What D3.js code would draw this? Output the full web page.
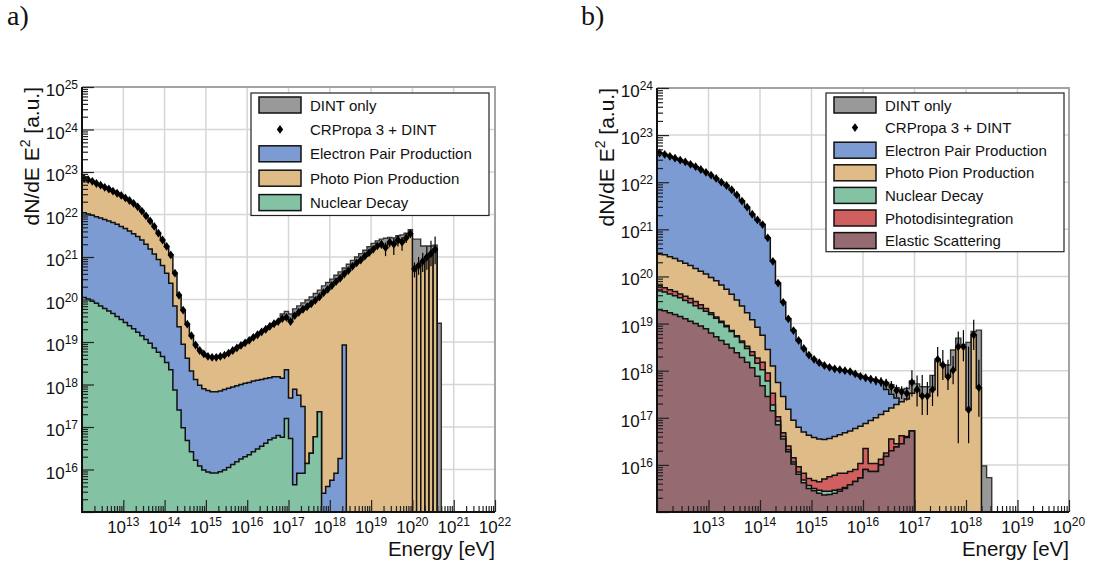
<!DOCTYPE html>
<html>
<head>
<meta charset="utf-8">
<script src="https://cdn.jsdelivr.net/npm/d3@7"></script>
<style>
  body { margin: 0; background: #fff; }
  svg text { font-family: "Liberation Sans", Arial, sans-serif; fill: #111; }
</style>
</head>
<body>
<svg id="chart" width="1095" height="570"></svg>
<script>
// spectra are binned in log10(E/eV) with 10 bins per decade starting at 1e12 eV,
// values are log10 of dN/dE E^2 (cumulative top of each stacked layer)
const BIN_START = 12, BIN_STEP = 0.1;

// colours of the contributions
const DINT = "#999999", PAIR = "#7b9bd2", PION = "#dfbb87",
      NUCLEAR = "#84c2a4", PHOTODIS = "#d05f5f", ELASTIC = "#956a70";

// ---------- panel a ----------
// total (top of the photo pion layer), also the CRPropa 3 + DINT points
const aTotal = [
  22.85, 22.82, 22.78, 22.73, 22.69, 22.64, 22.60, 22.55, 22.50, 22.45,
  22.39, 22.33, 22.26, 22.18, 22.08, 21.97, 21.85, 21.72, 21.56, 21.40,
  21.25, 21.05, 20.62, 20.10, 19.75, 19.42, 19.15, 18.93, 18.80, 18.72,
  18.66, 18.64, 18.64, 18.66, 18.69, 18.74, 18.80, 18.86, 18.92, 18.98,
  19.04, 19.11, 19.17, 19.24, 19.30, 19.37, 19.43, 19.48, 19.55, 19.58,
  19.48, 19.62, 19.70, 19.77, 19.83, 19.90, 19.98, 20.06, 20.16, 20.24,
  20.33, 20.42, 20.50, 20.60, 20.68, 20.78, 20.86, 20.93, 21.02, 21.10,
  21.18, 21.26, 21.30, 21.22, 21.35, 21.30, 21.40, 21.35, 21.45, 21.55,
  20.72, 20.80, 20.90, 21.00, 21.08, 21.18
];
// nuclear decay + electron pair production
const aPairTop = [
  22.04, 22.01, 21.98, 21.95, 21.92, 21.88, 21.85, 21.81, 21.77, 21.72,
  21.67, 21.61, 21.55, 21.48, 21.40, 21.30, 21.19, 21.07, 20.94, 20.80,
  20.62, 20.38, 19.85, 19.36, 18.95, 18.62, 18.32, 18.12, 17.98, 17.90,
  17.86, 17.83, 17.83, 17.85, 17.88, 17.91, 17.94, 17.97, 18.00, 18.03,
  18.05, 18.08, 18.10, 18.12, 18.14, 18.16, 18.18, 18.18, 18.15, 18.35,
  17.68, 17.89, 17.75, 17.48, 16.14, 16.38, 16.77, 17.36, 15.44, 15.60,
  15.75, 15.91, 16.26, 18.93
];
// nuclear decay
const aNuclearTop = [
  20.05, 20.01, 19.96, 19.91, 19.85, 19.79, 19.73, 19.67, 19.60, 19.53,
  19.46, 19.38, 19.31, 19.23, 19.15, 19.06, 18.97, 18.86, 18.76, 18.66,
  18.52, 18.35, 17.87, 17.40, 16.98, 16.68, 16.42, 16.22, 16.08, 15.99,
  15.94, 15.92, 15.92, 15.95, 15.99, 16.05, 16.12, 16.18, 16.25, 16.30,
  16.35, 16.42, 16.48, 16.55, 16.62, 16.70, 16.74, 16.80, 16.76, 17.20,
  16.73, 15.64, 15.91, 15.91, 16.14, 16.38, 16.77, 17.36
];
// DINT only, first bin where it is drawn
const aDintStart = 48;
const aDint = [
  19.66, 19.72, 19.66, 19.78, 19.85, 19.92, 19.99, 20.06, 20.14, 20.22,
  20.32, 20.40, 20.48, 20.57, 20.65, 20.74, 20.83, 20.92, 21.00, 21.08,
  21.16, 21.24, 21.32, 21.38, 21.42, 21.44, 21.46, 21.45, 21.50, 21.52,
  21.56, 21.64, 21.42, 21.42, 21.26, 21.26, 21.26, 21.28, 19.44
];
// [bin, up, down] error bars in decades
const aErrors = [
  [66, .03, .03], [67, .03, .03], [68, .04, .04], [69, .04, .05], [70, .05, .06],
  [71, .06, .06], [72, .08, .10], [73, .12, .20], [74, .08, .12], [75, .15, .25],
  [76, .10, .15], [77, .12, .20], [78, .10, .12], [79, .08, .10], [80, .15, .20],
  [81, .20, .22], [82, .20, .25], [83, .25, .30], [84, .30, .30], [85, .30, .35]
];
const aBarBins = [80, 85];
const aLegendNames = ["DINT only", "CRPropa 3 + DINT", "Electron Pair Production",
                      "Photo Pion Production", "Nuclear Decay"];
const aLegendColors = [DINT, null, PAIR, PION, NUCLEAR];

// ---------- panel b ----------
const bMarkers = [
  22.62, 22.59, 22.55, 22.51, 22.47, 22.43, 22.38, 22.33, 22.27, 22.21,
  22.15, 22.08, 22.00, 21.93, 21.84, 21.73, 21.60, 21.47, 21.32, 21.20,
  21.10, 20.82, 20.32, 19.86, 19.45, 19.10, 18.85, 18.64, 18.47, 18.33,
  18.24, 18.17, 18.11, 18.07, 18.04, 18.02, 18.00, 17.98, 17.93, 17.88,
  17.85, 17.82, 17.79, 17.76, 17.73, 17.66, 17.58, 17.55, 17.52, 17.75,
  17.60, 17.46, 17.46, 17.60, 18.24, 18.12, 17.87, 18.01, 18.51, 18.51,
  17.17, 18.76, 17.64
];
const bPairTop = [
  22.62, 22.59, 22.55, 22.51, 22.47, 22.43, 22.38, 22.33, 22.27, 22.21,
  22.15, 22.08, 22.00, 21.93, 21.84, 21.73, 21.60, 21.47, 21.32, 21.20,
  21.10, 20.82, 20.32, 19.86, 19.45, 19.10, 18.85, 18.64, 18.47, 18.33,
  18.24, 18.17, 18.11, 18.07, 18.04, 18.02, 18.00, 17.98, 17.93, 17.88,
  17.85, 17.82, 17.79, 17.76, 17.60, 17.50, 17.42
];
const bPionTop = [
  20.49, 20.46, 20.42, 20.38, 20.33, 20.28, 20.23, 20.17, 20.11, 20.05,
  19.98, 19.91, 19.82, 19.73, 19.62, 19.50, 19.37, 19.23, 19.08, 18.92,
  18.75, 18.45, 18.10, 17.75, 17.45, 17.18, 16.95, 16.80, 16.70, 16.63,
  16.58, 16.55, 16.54, 16.56, 16.60, 16.64, 16.68, 16.72, 16.77, 16.82,
  16.88, 16.94, 17.00, 17.07, 17.14, 17.21, 17.28, 17.34, 17.40, 17.52,
  17.60, 17.46, 17.46, 17.60, 18.24, 18.12, 17.87, 18.01, 18.51, 18.51,
  17.17, 18.76, 17.64
];
const bPhotodisTop = [
  19.80, 19.76, 19.72, 19.68, 19.63, 19.58, 19.53, 19.47, 19.40, 19.32,
  19.23, 19.14, 19.05, 18.96, 18.85, 18.74, 18.63, 18.52, 18.40, 18.27,
  18.18, 17.95, 17.52, 17.02, 16.68, 16.40, 16.15, 15.96, 15.82, 15.71,
  15.67, 15.64, 15.70, 15.75, 15.78, 15.82, 15.82, 15.86, 15.90, 16.03,
  16.35, 16.03, 16.03, 16.12, 16.25, 16.55, 16.45, 16.62, 16.60, 16.72
];
const bNuclearTop = [
  19.71, 19.67, 19.63, 19.59, 19.55, 19.49, 19.44, 19.38, 19.32, 19.26,
  19.19, 19.11, 19.02, 18.93, 18.83, 18.72, 18.60, 18.47, 18.32, 18.16,
  18.02, 17.78, 17.27, 16.93, 16.60, 16.32, 16.06, 15.85, 15.68, 15.56,
  15.50, 15.46, 15.44, 15.44, 15.46, 15.48, 15.52, 15.58, 15.65, 15.72,
  15.90, 15.86, 15.86, 16.00, 16.18, 16.30, 16.38, 16.45, 16.58, 16.72
];
const bElasticTop = [
  19.30, 19.27, 19.23, 19.19, 19.15, 19.10, 19.05, 19.00, 18.95, 18.89,
  18.80, 18.72, 18.64, 18.56, 18.48, 18.38, 18.28, 18.18, 18.06, 17.88,
  17.68, 17.45, 17.15, 16.85, 16.55, 16.28, 16.02, 15.80, 15.62, 15.50,
  15.45, 15.40, 15.36, 15.37, 15.40, 15.44, 15.50, 15.58, 15.65, 15.72,
  15.90, 15.86, 15.86, 16.00, 16.18, 16.30, 16.38, 16.45, 16.58, 16.72
];
const bDintStart = 38;
const bDint = [
  17.93, 17.88, 17.85, 17.82, 17.80, 17.77, 17.75, 17.70, 17.64, 17.60,
  17.62, 17.78, 17.72, 17.66, 17.66, 17.90, 18.20, 18.12, 18.12, 18.44,
  18.69, 18.55, 18.60, 18.83, 18.86, 15.98, 15.73
];
const bErrors = [
  [36, .05, .05], [37, .05, .05], [38, .06, .06], [39, .07, .07], [40, .08, .08],
  [41, .08, .09], [42, .09, .10], [43, .10, .10], [44, .10, .12], [45, .12, .14],
  [46, .12, .15], [47, .12, .15], [48, .14, .16], [49, .26, .30], [50, .30, .36],
  [51, .45, .40], [52, .30, .40], [53, .30, .35], [54, .26, .79], [55, .32, .32],
  [56, .36, .28], [57, .30, .30], [58, .32, 2.05], [59, .35, .31], [60, 1.34, .71],
  [61, .32, .32], [62, .59, .62]
];
const bBarBins = [50, 62];
const bLegendNames = ["DINT only", "CRPropa 3 + DINT", "Electron Pair Production",
                      "Photo Pion Production", "Nuclear Decay", "Photodisintegration",
                      "Elastic Scattering"];
const bLegendColors = [DINT, null, PAIR, PION, NUCLEAR, PHOTODIS, ELASTIC];

// ---------- helpers ----------
const lg = v => Math.pow(10, v);
const binLo = k => lg(BIN_START + BIN_STEP * k);
const binHi = k => lg(BIN_START + BIN_STEP * (k + 1));
const binMid = k => lg(BIN_START + BIN_STEP * (k + 0.5));
const place = (start, vals) => d3.range(start).map(() => null).concat(vals);
const DIAMOND = "M0,-4.4L3.2,0L0,4.4L-3.2,0Z";

// filled step histogram, dropping to the frame floor where a bin is empty
function stepPath(tops, x, y) {
  const floor = y.range()[0];
  let d = "", open = false;
  tops.forEach((t, k) => {
    if (t == null) {
      if (open) { d += "V" + floor + "Z"; open = false; }
      return;
    }
    if (!open) { d += "M" + x(binLo(k)) + "," + floor; open = true; }
    d += "V" + y(lg(t)) + "H" + x(binHi(k));
  });
  if (open) d += "V" + floor + "Z";
  return d;
}

function powerText(sel, e) {
  sel.append("tspan").text("10");
  sel.append("tspan").attr("dy", -7).attr("font-size", 12).text(e);
}

const svg = d3.select("#chart");

function drawPanel(p) {
  const x = d3.scaleLog().domain([lg(p.eMin), lg(p.eMax)]).range([p.left, p.right]);
  const y = d3.scaleLog().domain([lg(p.yMin), lg(p.yMax)]).range([p.bottom, p.top]).clamp(true);
  const g = svg.append("g");

  // grid at every decade
  const gx = d3.range(p.eMin + 1, p.eMax).map(lg);
  const gy = d3.range(p.yMin + 1, p.yMax).map(lg);
  const grid = g.append("g").attr("stroke", "#d6d6d6").attr("stroke-width", 1.5);
  grid.selectAll(".gx").data(gx).join("line")
    .attr("x1", d => x(d)).attr("x2", d => x(d))
    .attr("y1", p.top).attr("y2", p.bottom);
  grid.selectAll(".gy").data(gy).join("line")
    .attr("y1", d => y(d)).attr("y2", d => y(d))
    .attr("x1", p.left).attr("x2", p.right);

  // DINT only, behind the stack
  g.append("path")
    .attr("d", stepPath(p.dint, x, y))
    .attr("fill", DINT).attr("stroke", "#333").attr("stroke-width", 1.4);

  // stacked contributions, outermost layer first
  p.stack.forEach(([tops, color]) => {
    g.append("path")
      .attr("d", stepPath(tops, x, y))
      .attr("fill", color).attr("stroke", "#111").attr("stroke-width", 1.5)
      .attr("stroke-linejoin", "miter");
  });

  // single bins at the high energy end
  const top = p.stack[0][0];
  g.append("g").selectAll("rect")
    .data(d3.range(p.bars[0], p.bars[1] + 1))
    .join("rect")
    .attr("x", k => x(binLo(k)))
    .attr("width", k => x(binHi(k)) - x(binLo(k)))
    .attr("y", k => y(lg(top[k])))
    .attr("height", k => p.bottom - y(lg(top[k])))
    .attr("fill", "none").attr("stroke", "#111").attr("stroke-width", 1.3);

  // CRPropa 3 + DINT points
  g.append("g").selectAll("line")
    .data(p.errors)
    .join("line")
    .attr("x1", d => x(binMid(d[0]))).attr("x2", d => x(binMid(d[0])))
    .attr("y1", d => y(lg(p.points[d[0]] + d[1])))
    .attr("y2", d => y(lg(p.points[d[0]] - d[2])))
    .attr("stroke", "#000").attr("stroke-width", 1.2);
  g.append("g").selectAll("path")
    .data(p.points.map((v, k) => [k, v]).filter(d => d[1] != null))
    .join("path")
    .attr("d", DIAMOND)
    .attr("transform", d => "translate(" + x(binMid(d[0])) + "," + y(lg(d[1])) + ")")
    .attr("fill", "#000");

  // frame
  g.append("path")
    .attr("d", "M" + p.left + "," + p.top + "H" + p.right + "V" + p.bottom)
    .attr("fill", "none").attr("stroke", "#a3a3a3").attr("stroke-width", 2);

  // log ticks pointing into the frame
  const minorX = [], minorY = [];
  d3.range(p.eMin, p.eMax).forEach(e => d3.range(2, 10).forEach(m => minorX.push(m * lg(e))));
  d3.range(p.yMin, p.yMax).forEach(e => d3.range(2, 10).forEach(m => minorY.push(m * lg(e))));
  const majorX = d3.range(p.eMin, p.eMax + 1).map(lg);
  const majorY = d3.range(p.yMin, p.yMax + 1).map(lg);
  const tickAxis = (axis, vals, size, tx, ty) => {
    const a = g.append("g").attr("transform", "translate(" + tx + "," + ty + ")")
      .call(axis.tickValues(vals).tickSize(size).tickFormat(""));
    a.select(".domain").remove();
    a.selectAll("line").attr("stroke", "#222").attr("stroke-width", 1.2);
  };
  tickAxis(d3.axisBottom(x), minorX, -6, 0, p.bottom);
  tickAxis(d3.axisBottom(x), majorX, -12, 0, p.bottom);
  tickAxis(d3.axisLeft(y), minorY, -6, p.left, 0);
  tickAxis(d3.axisLeft(y), majorY, -12, p.left, 0);

  g.append("path")
    .attr("d", "M" + p.left + "," + p.top + "V" + p.bottom + "H" + p.right)
    .attr("fill", "none").attr("stroke", "#111").attr("stroke-width", 2);

  // tick labels
  d3.range(p.eMin + 1, p.eMax + 1).forEach(e => {
    g.append("text").attr("x", x(lg(e))).attr("y", p.bottom + 21)
      .attr("text-anchor", "middle").attr("font-size", 17)
      .call(powerText, e);
  });
  d3.range(p.yMin + 1, p.yMax + 1).forEach(e => {
    g.append("text").attr("x", p.left - 4).attr("y", y(lg(e)) + 9)
      .attr("text-anchor", "end").attr("font-size", 17)
      .call(powerText, e);
  });

  // axis titles
  g.append("text").attr("x", p.right).attr("y", 556)
    .attr("text-anchor", "end").attr("font-size", 20.5).text("Energy [eV]");
  const yt = g.append("text")
    .attr("transform", "translate(" + (p.left - 43) + "," + p.top + ") rotate(-90)")
    .attr("text-anchor", "end").attr("font-size", 21);
  yt.append("tspan").text("dN/dE E");
  yt.append("tspan").attr("dy", -9).attr("font-size", 14).text("2");
  yt.append("tspan").attr("dy", 9).text(" [a.u.]");

  // panel tag
  svg.append("text").attr("x", p.tagX).attr("y", 25)
    .style("font-family", "'Liberation Serif', 'DejaVu Serif', serif")
    .attr("font-size", 28).text(p.tag);

  // legend
  const L = p.legend;
  const lgG = g.append("g");
  lgG.append("rect").attr("x", L.x).attr("y", L.y).attr("width", L.w)
    .attr("height", L.row * L.names.length + 0.5)
    .attr("fill", "#fff").attr("stroke", "#222").attr("stroke-width", 1.2);
  L.names.forEach((name, i) => {
    const cy = L.y + 12 + L.row * i;
    if (L.colors[i]) {
      lgG.append("rect").attr("x", L.x + 8).attr("y", cy - 8)
        .attr("width", 42).attr("height", 16)
        .attr("fill", L.colors[i]).attr("stroke", "#111").attr("stroke-width", 1.5);
    } else {
      lgG.append("path").attr("d", DIAMOND)
        .attr("transform", "translate(" + (L.x + 29) + "," + cy + ")").attr("fill", "#000");
    }
    lgG.append("text").attr("x", L.x + 59).attr("y", cy + 5.5)
      .attr("font-size", 15).text(name);
  });
}

drawPanel({
  left: 82, right: 495, top: 87, bottom: 512,
  eMin: 12, eMax: 22, yMin: 15, yMax: 25,
  tag: "a)", tagX: 7,
  dint: place(aDintStart, aDint),
  stack: [[aTotal, PION], [aPairTop, PAIR], [aNuclearTop, NUCLEAR]],
  points: aTotal, errors: aErrors, bars: aBarBins,
  legend: { x: 251, y: 93, w: 238, row: 24.4, names: aLegendNames, colors: aLegendColors }
});

drawPanel({
  left: 657, right: 1069, top: 88, bottom: 512,
  eMin: 12, eMax: 20, yMin: 15, yMax: 24,
  tag: "b)", tagX: 581,
  dint: place(bDintStart, bDint),
  stack: [[bPairTop, PAIR], [bPionTop, PION], [bPhotodisTop, PHOTODIS],
          [bNuclearTop, NUCLEAR], [bElasticTop, ELASTIC]],
  points: bMarkers, errors: bErrors, bars: bBarBins,
  legend: { x: 826, y: 93, w: 238, row: 22.6, names: bLegendNames, colors: bLegendColors }
});
</script>
</body>
</html>
